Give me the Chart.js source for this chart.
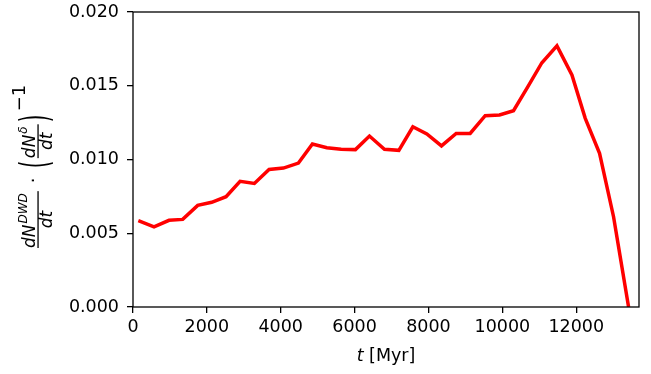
<!DOCTYPE html>
<html>
<head>
<meta charset="utf-8">
<script src="https://cdn.jsdelivr.net/npm/chart.js@4/dist/chart.umd.min.js"></script>
<style>
    body { margin: 0; background: #fff; }
    #wrap { width: 651px; height: 374px; }
</style>
</head>
<body>
<div id="wrap"><canvas id="rateChart" width="651" height="374"></canvas></div>
<script>
// DWD birth rate relative to star formation
const timeMyr = [144, 569, 975, 1346, 1752, 2131, 2519, 2899, 3286, 3684, 4073, 4479,
    4858, 5248, 5635, 6022, 6402, 6808, 7198, 7577, 7956, 8352, 8750, 9129, 9536,
    9923, 10302, 10692, 11071, 11478, 11884, 12245, 12632, 13011, 13418];
const rateRatio = [0.00585, 0.00544, 0.00588, 0.00594, 0.00689, 0.00710, 0.00748, 0.00852,
    0.00838, 0.00933, 0.00942, 0.00976, 0.01105, 0.01080, 0.01069, 0.01067, 0.01159,
    0.01069, 0.01062, 0.01222, 0.01173, 0.01092, 0.01177, 0.01177, 0.01297, 0.01302,
    0.01331, 0.01494, 0.01656, 0.01770, 0.01573, 0.01279, 0.01042, 0.00612, 0.0];
const xTicks = [0, 2000, 4000, 6000, 8000, 10000, 12000];
const yTicks = [0, 0.005, 0.010, 0.015, 0.020];

const FONT = '"DejaVu Sans", sans-serif';
const italic = size => `italic ${size}px ${FONT}`;
const regular = size => `${size}px ${FONT}`;

// frame around the plot (matplotlib spines)
const framePlugin = {
    id: 'frame',
    afterDraw: function(chart) {
        const ctx = chart.ctx;
        const a = chart.chartArea;
        ctx.save();
        ctx.strokeStyle = '#000';
        ctx.lineWidth = 1.3;
        ctx.strokeRect(a.left, a.top, a.right - a.left, a.bottom - a.top);
        ctx.restore();
    }
};

// draws a fraction "num^sup / den" starting at u, returns its width
function drawFrac(ctx, u, num, sup) {
    ctx.font = italic(17);
    const wn = ctx.measureText(num).width;
    ctx.fillText(num, u, 35);
    ctx.font = italic(12);
    const ws = ctx.measureText(sup).width;
    ctx.fillText(sup, u + wn + 1, 27);
    const w = wn + ws + 3;
    ctx.fillRect(u, 37.4, w, 1.3);
    ctx.font = italic(17);
    const wd = ctx.measureText('dt').width;
    ctx.fillText('dt', u + (w - wd) / 2, 52);
    return w;
}

function drawParen(ctx, u, ch) {
    ctx.save();
    ctx.translate(u, 0);
    ctx.scale(0.5, 1);
    ctx.font = regular(39);
    ctx.fillText(ch, 0, 48);
    ctx.restore();
    return 8;
}

const labelsPlugin = {
    id: 'axisLabels',
    afterDraw: function(chart) {
        const ctx = chart.ctx;
        ctx.save();
        ctx.fillStyle = '#000';
        ctx.textAlign = 'left';
        ctx.textBaseline = 'alphabetic';

        // x label: t [Myr]
        ctx.font = italic(17.5);
        const wt = ctx.measureText('t').width;
        ctx.font = regular(17.5);
        const wr = ctx.measureText(' [Myr]').width;
        const cx = (chart.chartArea.left + chart.chartArea.right) / 2;
        let x0 = cx - (wt + wr) / 2;
        ctx.font = italic(17.5);
        ctx.fillText('t', x0, 361);
        ctx.font = regular(17.5);
        ctx.fillText(' [Myr]', x0 + wt, 361);

        // y label, rotated: dN^DWD/dt · (dN^δ/dt)^-1
        ctx.translate(0, 248);
        ctx.rotate(-Math.PI / 2);
        let u = 0;
        u += drawFrac(ctx, u, 'dN', 'DWD');
        ctx.font = regular(18);
        ctx.fillText('·', u + 8, 39);
        u += 23;
        u += drawParen(ctx, u, '(');
        u += 2;
        u += drawFrac(ctx, u, 'dN', 'δ');
        u += 2;
        u += drawParen(ctx, u, ')');
        ctx.font = regular(18);
        ctx.fillText('−1', u + 3, 25);
        ctx.restore();
    }
};

const ctx = document.getElementById('rateChart').getContext('2d');
new Chart(ctx, {
    type: 'line',
    data: {
        labels: timeMyr,
        datasets: [{
            data: timeMyr.map((t, i) => ({ x: t, y: rateRatio[i] })),
            borderColor: '#ff0000',
            borderWidth: 3.5,
            pointRadius: 0,
            tension: 0,
            fill: false
        }]
    },
    options: {
        responsive: false,
        animation: false,
        layout: { padding: { top: 12, right: 12, left: 0, bottom: 0 } },
        plugins: { legend: { display: false }, tooltip: { enabled: false } },
        scales: {
            x: {
                type: 'linear',
                min: 0,
                max: 13700,
                afterBuildTicks: s => { s.ticks = xTicks.map(v => ({ value: v })); },
                afterFit: s => { s.height = 67; s.paddingLeft = 0; s.paddingRight = 0; },
                border: { display: false },
                grid: { drawOnChartArea: false, drawTicks: true, tickLength: 6, color: '#000', lineWidth: 1.3 },
                ticks: {
                    color: '#000',
                    font: { family: FONT, size: 17.5 },
                    padding: 4,
                    maxRotation: 0,
                    callback: v => String(v)
                }
            },
            y: {
                min: 0,
                max: 0.02,
                afterBuildTicks: s => { s.ticks = yTicks.map(v => ({ value: v })); },
                afterFit: s => { s.width = 133; s.paddingTop = 0; s.paddingBottom = 0; },
                border: { display: false },
                grid: { drawOnChartArea: false, drawTicks: true, tickLength: 6, color: '#000', lineWidth: 1.3 },
                ticks: {
                    color: '#000',
                    font: { family: FONT, size: 17.5 },
                    padding: 8,
                    callback: v => v.toFixed(3)
                }
            }
        }
    },
    plugins: [framePlugin, labelsPlugin]
});
</script>
</body>
</html>
